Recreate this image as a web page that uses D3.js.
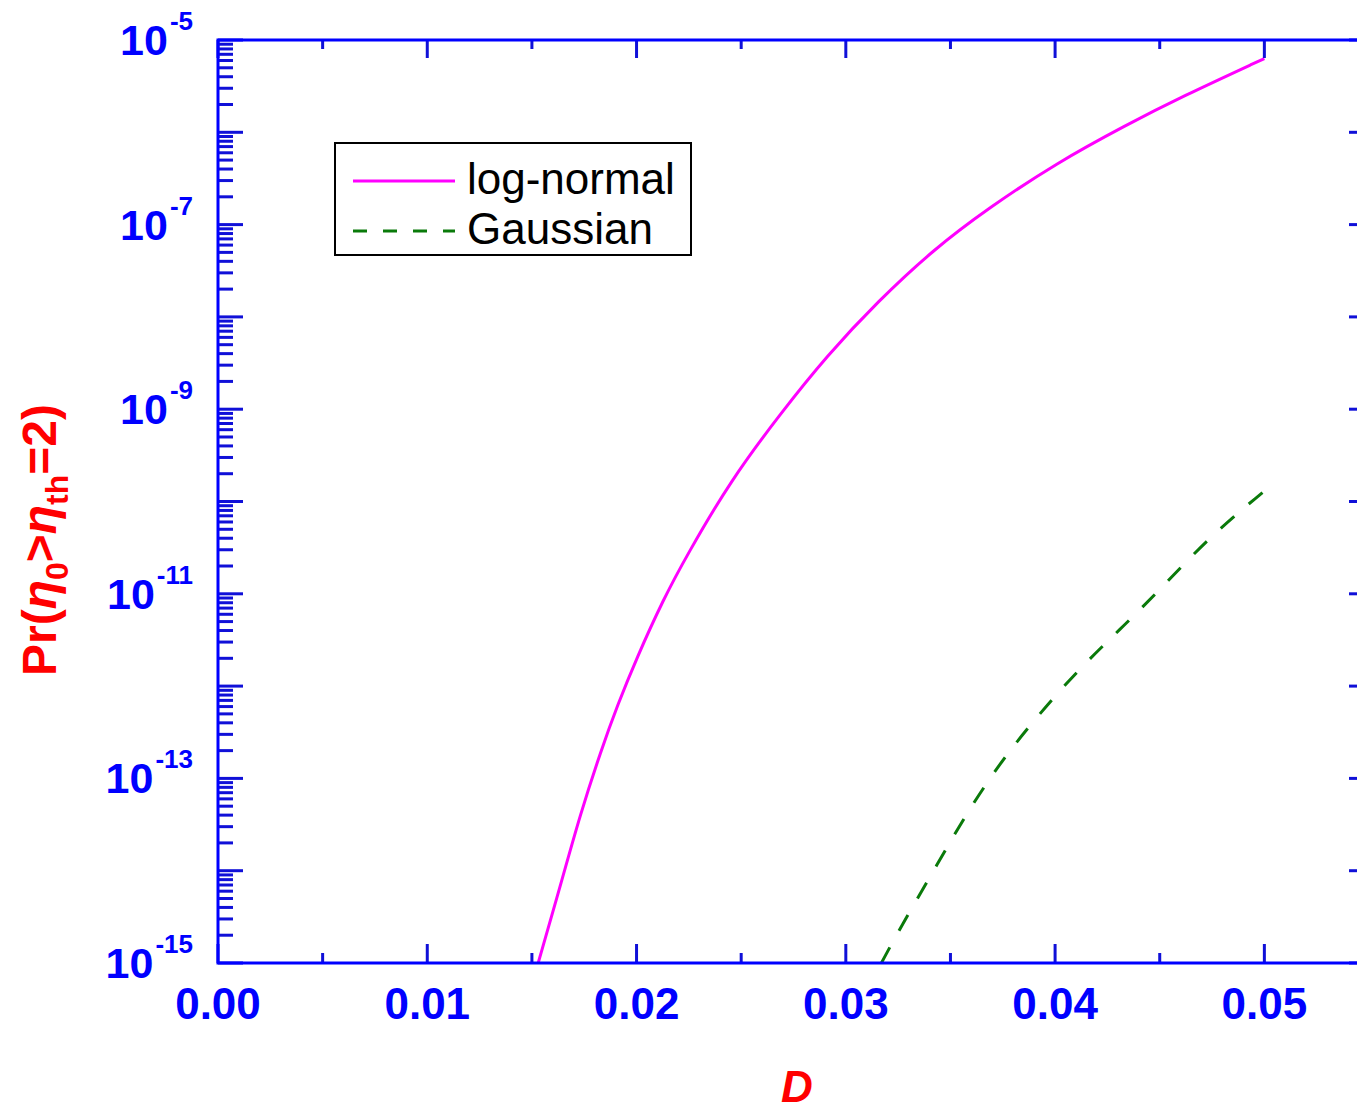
<!DOCTYPE html>
<html>
<head>
<meta charset="utf-8">
<script src="https://cdn.jsdelivr.net/npm/d3@7"></script>
<style>
    body { margin: 0; background: #fff; }
    svg { display: block; }
</style>
</head>
<body>
<div id="view1"></div>
<script>
// values
var lognormD = [0.0153, 0.0165, 0.0173, 0.0183, 0.0191, 0.0200, 0.0213, 0.0224, 0.0245, 0.0269,
                0.0291, 0.0315, 0.0342, 0.0368, 0.0401, 0.0434, 0.0460, 0.0500];
var lognormP = [1e-15, 8.9e-15, 4.0e-14, 2.0e-13, 6.3e-13, 2.0e-12, 8.9e-12, 2.6e-11, 1.7e-10, 9.1e-10,
                3.8e-9, 1.45e-8, 5.4e-8, 1.5e-7, 4.7e-7, 1.2e-6, 2.4e-6, 6.3e-6];
var gaussD = [0.0317, 0.0326, 0.0344, 0.0358, 0.0374, 0.0390, 0.0411, 0.0431, 0.0450, 0.0474, 0.0500];
var gaussP = [1e-15, 2.4e-15, 1.2e-14, 4.3e-14, 1.5e-13, 4.3e-13, 1.5e-12, 4.1e-12, 1.1e-11, 4.2e-11, 1.3e-10];

var xTicks = [0, 0.01, 0.02, 0.03, 0.04, 0.05];
var xTickLabels = ["0.00", "0.01", "0.02", "0.03", "0.04", "0.05"];
var yLabelExps = [-5, -7, -9, -11, -13, -15];
var seriesNames = ["log-normal", "Gaussian"];

(function(){
    var svgwidth = 1357, svgheight = 1111;
    var margin = {top: 40, left: 218, bottom: 148};
    var axisBlue = "#0000ff", tickBlue = "#1010d8";

    var svg = d3.select("#view1")
        .append("svg")
        .attr("width", svgwidth)
        .attr("height", svgheight);

    var x = d3.scaleLinear().domain([0, 0.055]).range([margin.left, 1369]);
    var y = d3.scaleLog().domain([1e-15, 1e-5]).range([svgheight - margin.bottom, margin.top]);

    var x0 = x(0), x1 = x(0.055), y0 = y(1e-15), y1 = y(1e-5);

    // minor / major tick lists
    var xMinor = d3.range(0, 0.0551, 0.005).filter(function(d){ return Math.round(d*1000) % 10 != 0; });
    var yMajor = d3.range(-15, -4).map(function(e){ return Math.pow(10, e); });
    var yMinor = [];
    d3.range(-15, -5).forEach(function(e){
        for (var k = 2; k < 10; k++) yMinor.push(k * Math.pow(10, e));
    });

    var g = svg.append("g");

    // curves (clipped to plot box)
    svg.append("clipPath").attr("id", "plotclip")
        .append("rect").attr("x", x0).attr("y", y1).attr("width", x1 - x0).attr("height", y0 - y1);

    var line = d3.line()
        .x(function(d){ return x(d[0]); })
        .y(function(d){ return y(d[1]); })
        .curve(d3.curveBasis);

    var lognorm = d3.zip(lognormD, lognormP);
    var gauss = d3.zip(gaussD, gaussP);

    g.append("path")
        .datum(lognorm)
        .attr("clip-path", "url(#plotclip)")
        .attr("d", line)
        .attr("fill", "none")
        .attr("stroke", "#ff00ff")
        .attr("stroke-width", 3);

    g.append("path")
        .datum(gauss)
        .attr("clip-path", "url(#plotclip)")
        .attr("d", line)
        .attr("fill", "none")
        .attr("stroke", "#0a7a0a")
        .attr("stroke-width", 3)
        .attr("stroke-dasharray", "18,19");

    // ticks, all pointing inward
    function ticks(cls, data, fn) {
        g.append("g").attr("class", cls)
            .selectAll("line").data(data).enter().append("line")
            .each(fn)
            .attr("stroke", tickBlue)
            .attr("stroke-width", 3);
    }
    ticks("xb-major", xTicks, function(d){ d3.select(this).attr("x1", x(d)).attr("x2", x(d)).attr("y1", y0).attr("y2", y0 - 19); });
    ticks("xb-minor", xMinor, function(d){ d3.select(this).attr("x1", x(d)).attr("x2", x(d)).attr("y1", y0).attr("y2", y0 - 10); });
    ticks("xt-major", xTicks, function(d){ d3.select(this).attr("x1", x(d)).attr("x2", x(d)).attr("y1", y1).attr("y2", y1 + 18); });
    ticks("xt-minor", xMinor, function(d){ d3.select(this).attr("x1", x(d)).attr("x2", x(d)).attr("y1", y1).attr("y2", y1 + 9); });
    ticks("yl-major", yMajor, function(d){ d3.select(this).attr("y1", y(d)).attr("y2", y(d)).attr("x1", x0).attr("x2", x0 + 25); });
    ticks("yl-minor", yMinor, function(d){ d3.select(this).attr("y1", y(d)).attr("y2", y(d)).attr("x1", x0).attr("x2", x0 + 15); });
    ticks("yr-major", yMajor, function(d){ d3.select(this).attr("y1", y(d)).attr("y2", y(d)).attr("x1", x1).attr("x2", x1 - 20); });
    ticks("yr-minor", yMinor, function(d){ d3.select(this).attr("y1", y(d)).attr("y2", y(d)).attr("x1", x1).attr("x2", x1 - 12); });

    // frame
    g.append("rect")
        .attr("x", x0).attr("y", y1)
        .attr("width", x1 - x0).attr("height", y0 - y1)
        .attr("fill", "none")
        .attr("stroke", axisBlue)
        .attr("stroke-width", 3);

    // x tick labels
    g.append("g").selectAll("text")
        .data(xTicks).enter().append("text")
        .attr("x", function(d){ return x(d); })
        .attr("y", 1019)
        .attr("text-anchor", "middle")
        .style("font-family", "'Liberation Sans', Arial, sans-serif")
        .style("font-weight", "bold")
        .style("font-size", "44px")
        .attr("fill", axisBlue)
        .text(function(d, i){ return xTickLabels[i]; });

    // y tick labels 10^n
    var ylab = g.append("g").selectAll("text")
        .data(yLabelExps).enter().append("text")
        .attr("x", 193)
        .attr("y", function(d){ return y(Math.pow(10, d)) + 15; })
        .attr("text-anchor", "end")
        .style("font-family", "'Liberation Sans', Arial, sans-serif")
        .style("font-weight", "bold")
        .attr("fill", axisBlue);
    ylab.append("tspan").style("font-size", "43px").text("10");
    ylab.append("tspan").style("font-size", "26px").attr("dx", 2).attr("dy", -25)
        .text(function(d){ return String(d); });

    // axis titles
    svg.append("text")
        .attr("x", 797)
        .attr("y", 1102)
        .attr("text-anchor", "middle")
        .style("font-family", "'Liberation Sans', Arial, sans-serif")
        .style("font-weight", "bold")
        .style("font-style", "italic")
        .style("font-size", "44px")
        .attr("fill", "#ff0000")
        .text("D");

    var yt = svg.append("text")
        .attr("transform", "translate(56,540) rotate(-90)")
        .attr("text-anchor", "middle")
        .style("font-family", "'Liberation Sans', Arial, sans-serif")
        .style("font-weight", "bold")
        .style("font-size", "48px")
        .attr("fill", "#ff0000");
    yt.append("tspan").text("Pr(");
    yt.append("tspan").style("font-style", "italic").text("η");
    yt.append("tspan").style("font-size", "32px").attr("dy", 12).text("0");
    yt.append("tspan").attr("dy", -12).text(">");
    yt.append("tspan").style("font-style", "italic").text("η");
    yt.append("tspan").style("font-size", "32px").attr("dy", 12).text("th");
    yt.append("tspan").attr("dy", -12).text("=2)");

    // legend
    var leg = svg.append("g").attr("class", "legend");
    leg.append("rect")
        .attr("x", 335).attr("y", 143)
        .attr("width", 356).attr("height", 112)
        .attr("fill", "#fff")
        .attr("stroke", "#000")
        .attr("stroke-width", 2);
    var legStyles = [
        {color: "#ff00ff", dash: null, ly: 181},
        {color: "#0a7a0a", dash: "14,16", ly: 231}
    ];
    seriesNames.forEach(function(name, i){
        var s = legStyles[i];
        leg.append("line")
            .attr("x1", 353).attr("x2", 455)
            .attr("y1", s.ly).attr("y2", s.ly)
            .attr("stroke", s.color)
            .attr("stroke-width", 3)
            .attr("stroke-dasharray", s.dash);
        leg.append("text")
            .attr("x", 467)
            .attr("y", s.ly + 13)
            .style("font-family", "'Liberation Sans', Arial, sans-serif")
            .style("font-size", "44px")
            .attr("fill", "#000")
            .text(name);
    });
})();
</script>
</body>
</html>
